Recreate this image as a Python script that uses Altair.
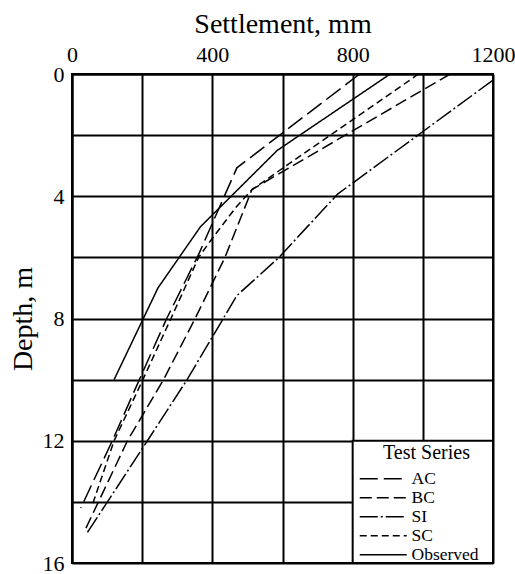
import altair as alt
import pandas as pd

SERIES = ["AC", "BC", "SI", "SC", "Observed"]
DASHES = [[18, 6], [12, 5], [18, 3, 2, 3], [7, 4], [1, 0]]

AC_DEPTH = [0, 3.07, 5.9, 8, 10, 12, 14.2]
AC_SETTLE = [820, 470, 361, 270, 192, 115, 25]

BC_DEPTH = [0, 3.78, 6, 8, 10, 12, 15]
BC_SETTLE = [1078, 513, 436, 351, 261, 158, 34]

SI_DEPTH = [0.2, 3.93, 6.0, 7.25, 10, 12, 14, 15]
SI_SETTLE = [1200, 757, 590, 470, 328, 215, 101, 44]

SC_DEPTH = [0, 3.78, 4.38, 5.47, 6, 8, 10, 12, 14.1]
SC_SETTLE = [988, 513, 466, 394, 361, 282, 202, 120, 58]

OBS_DEPTH = [0, 2.5, 5, 7, 10]
OBS_SETTLE = [907, 585, 366, 245, 120]

X_GRID = [0, 200, 400, 600, 800, 1000, 1200]
Y_GRID = [0, 2, 4, 6, 8, 10, 12, 14, 16]

LEGEND_BOX_X = [800, 1200]
LEGEND_BOX_Y = [12, 16]

FONT = "Liberation Serif"

rows = []
for name, ds, ss in [
    ("AC", AC_DEPTH, AC_SETTLE),
    ("BC", BC_DEPTH, BC_SETTLE),
    ("SI", SI_DEPTH, SI_SETTLE),
    ("SC", SC_DEPTH, SC_SETTLE),
    ("Observed", OBS_DEPTH, OBS_SETTLE),
]:
    for i, (d, s) in enumerate(zip(ds, ss)):
        rows.append({"series": name, "depth": d, "settlement": s, "idx": i})
df = pd.DataFrame(rows)

box = pd.DataFrame({
    "x": [LEGEND_BOX_X[0]], "x2": [LEGEND_BOX_X[1]],
    "y": [LEGEND_BOX_Y[0]], "y2": [LEGEND_BOX_Y[1]],
})

x_scale = alt.Scale(domain=[0, 1200], nice=False, zero=True)
y_scale = alt.Scale(domain=[0, 16], nice=False, reverse=True)

x_axis = alt.Axis(
    orient="top", values=X_GRID, format="d",
    labelExpr="datum.value % 400 == 0 ? datum.label : ''",
    title="Settlement, mm", titlePadding=5,
    labelPadding=8, labelFlush=False, labelOverlap=False,
)
y_axis = alt.Axis(
    values=Y_GRID, format="d",
    labelExpr="datum.value % 4 == 0 ? datum.label : ''",
    title="Depth, m", titlePadding=5,
    labelPadding=8, labelFlush=False, labelOverlap=False,
)

lines = alt.Chart(df).mark_line(color="black", strokeWidth=1.5).encode(
    x=alt.X("settlement:Q", scale=x_scale, axis=x_axis),
    y=alt.Y("depth:Q", scale=y_scale, axis=y_axis),
    strokeDash=alt.StrokeDash(
        "series:N",
        scale=alt.Scale(domain=SERIES, range=DASHES),
        legend=alt.Legend(
            orient="none", legendX=302.5, legendY=369,
            title="Test Series", titleFont=FONT, titleFontSize=20,
            titleFontWeight="normal", titleColor="black",
            titleAnchor="middle", titleAlign="center", titlePadding=7,
            labelFont=FONT, labelFontSize=17.5, labelColor="black",
            labelOffset=19.5, symbolType="M-4,0H4", symbolSize=138,
            symbolStrokeWidth=1.5, symbolStrokeColor="black",
            rowPadding=0, padding=0,
        ),
    ),
    order="idx:Q",
)

legend_box = alt.Chart(box).mark_rect(fill="white", stroke="black", strokeWidth=2).encode(
    x="x:Q", x2="x2:Q", y="y:Q", y2="y2:Q",
)

chart = alt.layer(lines, legend_box).properties(
    width=421, height=489,
    padding={"left": 72, "top": 74, "right": 22, "bottom": 11},
    autosize=alt.AutoSizeParams(type="none"),
    background="white",
).configure_view(
    stroke="black", strokeWidth=2,
).configure_axis(
    grid=True, gridColor="black", gridWidth=2, gridOpacity=1,
    domain=True, domainColor="black", domainWidth=2,
    ticks=False,
    labelFont=FONT, labelFontSize=22, labelColor="black",
    titleFont=FONT, titleFontSize=28, titleFontWeight="normal", titleColor="black",
)

chart.save("out.html", embed_options={"renderer": "svg", "actions": False})
